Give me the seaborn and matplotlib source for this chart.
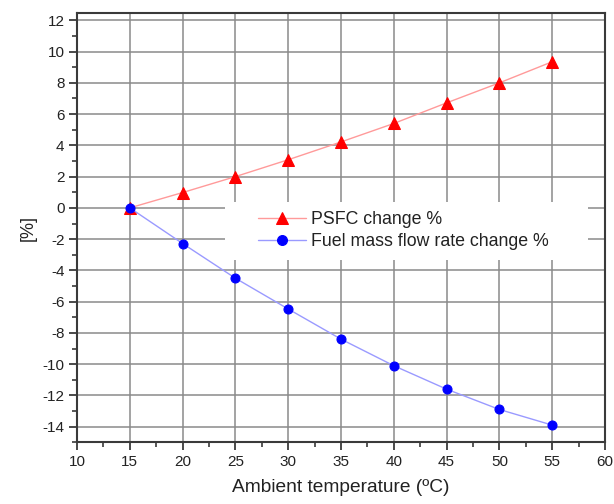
import matplotlib
matplotlib.use("Agg")
import matplotlib.pyplot as plt
import seaborn as sns
import pandas as pd
from matplotlib.ticker import MultipleLocator
from matplotlib.patches import Rectangle

temperature = [15, 20, 25, 30, 35, 40, 45, 50, 55]
psfc_change = [0.0, 0.98, 2.0, 3.08, 4.22, 5.4, 6.72, 8.0, 9.35]
fuel_change = [0.0, -2.28, -4.5, -6.47, -8.4, -10.1, -11.6, -12.9, -13.9]
series_labels = ["PSFC change %", "Fuel mass flow rate change %"]
x_label = "Ambient temperature (ºC)"
y_label = "[%]"

sns.set_theme(style="white")
plt.rcParams['font.family'] = ['Liberation Sans', 'DejaVu Sans']
plt.rcParams['axes.unicode_minus'] = False

df = pd.DataFrame({"temp": temperature, "psfc": psfc_change, "fuel": fuel_change})

W, H = 614, 504
L, R, T, B = 77, 605, 13.3, 442.3
fig = plt.figure(figsize=(W/100, H/100), dpi=100)
ax = fig.add_axes([L/W, 1-B/H, (R-L)/W, (B-T)/H])

sns.lineplot(data=df, x="temp", y="psfc", ax=ax, color="#ff9a9a", linewidth=1.0,
             marker="^", markersize=8, markerfacecolor="#ff0000", markeredgecolor="#ff0000",
             label=series_labels[0], zorder=3)
sns.lineplot(data=df, x="temp", y="fuel", ax=ax, color="#9a9aff", linewidth=1.0,
             marker="o", markersize=6.5, markerfacecolor="#0000ff", markeredgecolor="#0000ff",
             label=series_labels[1], zorder=3)

ax.set_xlim(10, 60)
ax.set_ylim(-15, 12.45)
ax.xaxis.set_major_locator(MultipleLocator(5))
ax.xaxis.set_minor_locator(MultipleLocator(2.5))
ax.yaxis.set_major_locator(MultipleLocator(2))
ax.yaxis.set_minor_locator(MultipleLocator(1))
ax.grid(True, which="major", color="#8a8a8a", linewidth=1.1)
ax.set_axisbelow(True)

# white legend background box (like the original's legend panel)
def px2ax(x, y):
    return (x - L) / (R - L), (B - y) / (B - T)
x0, y0 = px2ax(225, 260)
x1, y1 = px2ax(588, 202)
ax.add_patch(Rectangle((x0, y0), x1 - x0, y1 - y0, transform=ax.transAxes,
                       facecolor="white", edgecolor="none", zorder=1.5))

for s in ax.spines.values():
    s.set_color("#3a3a3a")
    s.set_linewidth(1.5)

ax.tick_params(axis="both", which="major", direction="out", length=6, width=1.3,
               color="#3a3a3a", labelsize=11, labelcolor="#222222",
               bottom=True, left=True, top=False, right=False, pad=3)
ax.tick_params(axis="both", which="minor", direction="out", length=3.5, width=1.2,
               color="#3a3a3a", bottom=True, left=True, top=False, right=False)

ax.set_xlabel(x_label, fontsize=13.8, color="#222222", labelpad=7)
ax.set_ylabel(y_label, fontsize=13, color="#222222", labelpad=4)

leg = ax.legend(loc="upper left", bbox_to_anchor=px2ax(258, 211), frameon=False,
                fontsize=12.8, handlelength=2.7, handletextpad=0.3, labelspacing=0.3,
                borderpad=0.0, borderaxespad=0.0, markerscale=1.1)
for t in leg.get_texts():
    t.set_color("#222222")

fig.savefig("out.png", dpi=100)
